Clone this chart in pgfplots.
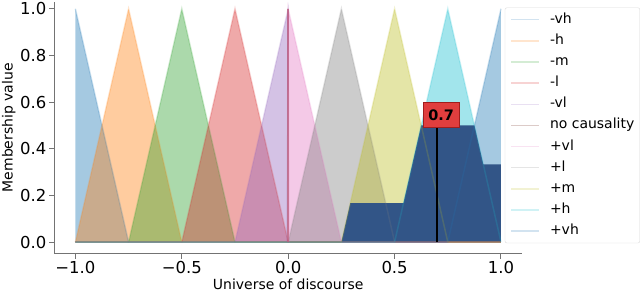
\documentclass[border=0pt]{standalone}
\usepackage{fontspec}
\setmainfont{DejaVu Sans}
\usepackage{pgfplots}
\pgfplotsset{compat=1.18}
\definecolor{c0}{HTML}{1F77B4}
\definecolor{c1}{HTML}{FF7F0E}
\definecolor{c2}{HTML}{2CA02C}
\definecolor{c3}{HTML}{D62728}
\definecolor{c4}{HTML}{9467BD}
\definecolor{c5}{HTML}{8C564B}
\definecolor{c6}{HTML}{E377C2}
\definecolor{c7}{HTML}{7F7F7F}
\definecolor{c8}{HTML}{BCBD22}
\definecolor{c9}{HTML}{17BECF}
\definecolor{aggr}{RGB}{50,85,135}
\definecolor{boxred}{RGB}{224,62,62}
\definecolor{boxedge}{RGB}{160,30,30}
\definecolor{spike}{RGB}{190,90,130}
\begin{document}
\begin{tikzpicture}
\begin{axis}[
  scale only axis, width=467.5bp, height=251.6bp,
  xmin=-1.1, xmax=1.1, ymin=-0.05, ymax=1.03,
  axis x line*=bottom, axis y line*=left,
  axis line style={black!55, line width=1bp},
  tick align=outside, major tick length=5bp,
  tick style={black!55, line width=1bp},
  xtick={-1,-0.5,0,0.5,1}, xticklabels={−1.0,−0.5,0.0,0.5,1.0},
  ytick={0,0.2,0.4,0.6,0.8,1}, yticklabels={0.0,0.2,0.4,0.6,0.8,1.0},
  ticklabel style={font=\fontsize{16.5}{18}\selectfont, inner sep=2.5bp},
  xlabel={Universe of discourse}, ylabel={Membership value},
  label style={font=\fontsize{14}{16}\selectfont},
  ylabel style={inner sep=2bp},
  xlabel style={inner sep=2bp},
  legend cell align=left,
  legend image code/.code={\draw[#1, line width=1.5bp] (0bp,0bp) -- (28bp,0bp);},
  legend style={at={(0.9626,0.977)}, anchor=north west,
    draw=black!15, rounded corners=2bp, fill=white, fill opacity=0.8, text opacity=1,
    font=\fontsize{14}{16}\selectfont,
    inner xsep=5.5bp, inner ysep=5.5bp, column sep=10bp, row sep=8.1bp,
    nodes={inner xsep=0bp, inner ysep=0bp, text height=10bp, text depth=3bp}},
]
% membership fills
\addplot[draw=none, fill=c0, fill opacity=0.4, forget plot] coordinates {(-1,0) (-1,1) (-0.75,0)} -- cycle;
\addplot[draw=none, fill=c1, fill opacity=0.4, forget plot] coordinates {(-1,0) (-0.75,1) (-0.5,0)} -- cycle;
\addplot[draw=none, fill=c2, fill opacity=0.4, forget plot] coordinates {(-0.75,0) (-0.5,1) (-0.25,0)} -- cycle;
\addplot[draw=none, fill=c3, fill opacity=0.4, forget plot] coordinates {(-0.5,0) (-0.25,1) (0,0)} -- cycle;
\addplot[draw=none, fill=c4, fill opacity=0.4, forget plot] coordinates {(-0.25,0) (0,1) (-0.006,0)} -- cycle;
\addplot[draw=none, fill=c6, fill opacity=0.4, forget plot] coordinates {(0.004,0) (0,1) (0.25,0)} -- cycle;
\addplot[draw=none, fill=c7, fill opacity=0.4, forget plot] coordinates {(0,0) (0.25,1) (0.5,0)} -- cycle;
\addplot[draw=none, fill=c8, fill opacity=0.4, forget plot] coordinates {(0.25,0) (0.5,1) (0.75,0)} -- cycle;
\addplot[draw=none, fill=c9, fill opacity=0.4, forget plot] coordinates {(0.5,0) (0.75,1) (1,0)} -- cycle;
\addplot[draw=none, fill=c0, fill opacity=0.4, forget plot] coordinates {(0.75,0) (1,1) (1,0)} -- cycle;
% aggregated output
\addplot[draw=none, fill=aggr, forget plot] coordinates {(0.25,0) (0.29167,0.16667) (0.54167,0.16667) (0.625,0.5) (0.875,0.5) (0.91667,0.33333) (1,0.33333) (1,0)} -- cycle;
% membership lines
\addplot[c0, opacity=0.2, line width=1.5bp] coordinates {(-1,1) (-0.75,0) (1,0)};
\addlegendentry{-vh}
\addplot[c1, opacity=0.2, line width=1.5bp] coordinates {(-1,0) (-0.75,1) (-0.5,0) (1,0)};
\addlegendentry{-h}
\addplot[c2, opacity=0.2, line width=1.5bp] coordinates {(-1,0) (-0.75,0) (-0.5,1) (-0.25,0) (1,0)};
\addlegendentry{-m}
\addplot[c3, opacity=0.2, line width=1.5bp] coordinates {(-1,0) (-0.5,0) (-0.25,1) (0,0) (1,0)};
\addlegendentry{-l}
\addplot[c4, opacity=0.2, line width=1.5bp] coordinates {(-1,0) (-0.25,0) (0,1) (-0.006,0) (1,0)};
\addlegendentry{-vl}
\addplot[c5, opacity=0.3, line width=1.5bp] coordinates {(-1,0) (0,0) (0,1) (0,0) (1,0)};
\addlegendentry{no causality}
\addplot[c6, opacity=0.2, line width=1.5bp] coordinates {(-1,0) (0.004,0) (0,1) (0.25,0) (1,0)};
\addlegendentry{+vl}
\addplot[c7, opacity=0.2, line width=1.5bp] coordinates {(-1,0) (0,0) (0.25,1) (0.5,0) (1,0)};
\addlegendentry{+l}
\addplot[c8, opacity=0.2, line width=1.5bp] coordinates {(-1,0) (0.25,0) (0.5,1) (0.75,0) (1,0)};
\addlegendentry{+m}
\addplot[c9, opacity=0.2, line width=1.5bp] coordinates {(-1,0) (0.5,0) (0.75,1) (1,0)};
\addlegendentry{+h}
\addplot[c0, opacity=0.2, line width=1.5bp] coordinates {(-1,0) (0.75,0) (1,1)};
\addlegendentry{+vh}
% spike of "no causality" at zero
\addplot[spike, opacity=0.7, line width=1.5bp, forget plot] coordinates {(0,0) (0,1)};
% defuzzified value
\addplot[black, line width=2bp, forget plot] coordinates {(0.7,0) (0.7,0.5)};
\node[fill=boxred, draw=boxedge, line width=1bp, minimum width=36bp, minimum height=25bp,
  inner sep=0bp, font=\bfseries\fontsize{14.5}{16}\selectfont] at (axis cs:0.7186,0.543) {0.7};
\end{axis}
\end{tikzpicture}
\end{document}
